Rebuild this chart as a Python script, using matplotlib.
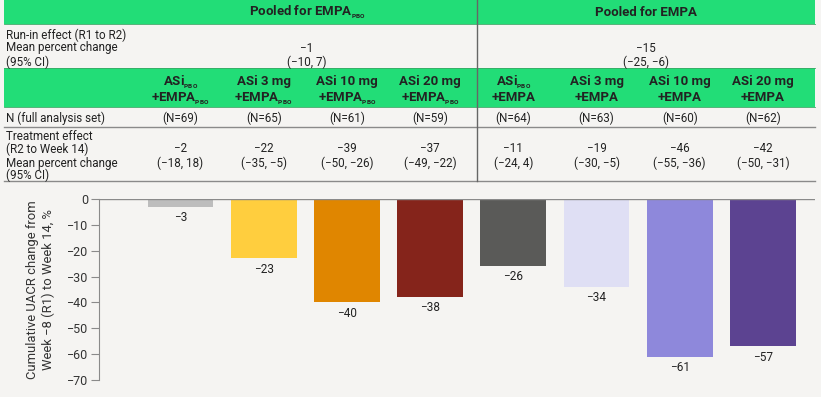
import matplotlib
matplotlib.use("Agg")
import matplotlib.pyplot as plt
from matplotlib.transforms import blended_transform_factory

plt.rcParams["font.family"] = ["Roboto", "DejaVu Sans"]

# --------------------------------------------------------------------------- #
# Data
# --------------------------------------------------------------------------- #
SUB = "$_{\\mathregular{_{PBO}}}$"
pool_titles = ["Pooled for EMPA" + SUB, "Pooled for EMPA"]
runin_mean = [-1, -15]
runin_ci = [(-10, 7), (-25, -6)]

col_top = ["ASi" + SUB, "ASi 3 mg", "ASi 10 mg", "ASi 20 mg",
           "ASi" + SUB, "ASi 3 mg", "ASi 10 mg", "ASi 20 mg"]
col_bot = ["+EMPA" + SUB] * 4 + ["+EMPA"] * 4
n_fas = [69, 65, 61, 59, 64, 63, 60, 62]
trt_mean = [-2, -22, -39, -37, -11, -19, -46, -42]
trt_ci = [(-18, 18), (-35, -5), (-50, -26), (-49, -22),
          (-24, 4), (-30, -5), (-55, -36), (-50, -31)]
cum_change = [-3, -23, -40, -38, -26, -34, -61, -57]
bar_colors = ["#BDBDBD", "#FFCE3E", "#E08600", "#85241B",
              "#5A5A58", "#DFDFF4", "#8E88DB", "#5C4391"]
yticks = [0, -10, -20, -30, -40, -50, -60, -70]

BG = "#F5F4F2"
GREEN = "#22DD77"
LINE = "#8A8A8A"
TXT = "#222222"
FS = 8.4      # body text
FSB = 9.5     # bold headers


def m(v):
    return str(v).replace("-", "\u2212")


def ci(t):
    return f"({m(t[0])}, {m(t[1])})"


W, H = 821, 397
fig = plt.figure(figsize=(W / 100, H / 100), dpi=100, facecolor=BG)

# overlay axes in pixel coords for the table
tab = fig.add_axes([0, 0, 1, 1], zorder=0)
tab.set_xlim(0, W)
tab.set_ylim(H, 0)
tab.axis("off")

# bar chart axes
L, R, T, B = 99, 815, 199, 380
ax = fig.add_axes([L / W, (H - B) / H, (R - L) / W, (B - T) / H], zorder=1)
ax.patch.set_alpha(0)
x = list(range(len(cum_change)))
pitch, c0 = 83.2, 180.5
ax.set_xlim((L - c0) / pitch, (R - c0) / pitch)
ax.set_ylim(-70, 0)

ax.bar(x, cum_change, width=0.79, color=bar_colors, zorder=2)
for xi, v in zip(x, cum_change):
    ax.annotate(m(v), (xi, v), xytext=(0, -3), textcoords="offset points",
                ha="center", va="top", fontsize=8.5, color=TXT)
ax.axhline(0, color=LINE, lw=1.0, zorder=3)
ax.set_yticks(yticks)
ax.set_yticklabels([m(t) for t in yticks], fontsize=9, color="#333333")
ax.set_xticks([])
for s in ("top", "right", "bottom"):
    ax.spines[s].set_visible(False)
ax.spines["left"].set_color(LINE)
ax.tick_params(axis="y", length=6, color=LINE, pad=2)
ax.set_ylabel("Cumulative UACR change from\nWeek \u22128 (R1) to Week 14, %",
              fontsize=9.4, color="#333333", labelpad=8, linespacing=1.25)

# --------------------------------------------------------------------------- #
# Table
# --------------------------------------------------------------------------- #
xl, xr, xdiv = 4, 815, 477
tab.fill_between([xl, xr], 0, 24, color=GREEN, lw=0)
tab.fill_between([xl, xr], 68, 107, color=GREEN, lw=0)
for yy in (24, 68, 107):
    tab.plot([xl, xr], [yy, yy], color="#3aa866", lw=0.6)
for yy in (127, 181):
    tab.plot([xl, xr], [yy, yy], color=LINE, lw=1.0)
tab.plot([xdiv, xdiv], [0, 181], color="#666666", lw=1.0)

bt = blended_transform_factory(ax.transData, tab.transData)

# pool headers
tab.text(307, 12, pool_titles[0], ha="center", va="center", fontsize=FSB,
         fontweight="bold", color=TXT)
tab.text(646, 12, pool_titles[1], ha="center", va="center", fontsize=FSB,
         fontweight="bold", color=TXT)

# run-in row
for yy, s in zip((35, 48, 62), ("Run-in effect (R1 to R2)",
                                "Mean percent change", "(95% CI)")):
    tab.text(6, yy, s, ha="left", va="center", fontsize=FS, color=TXT)
for cx, mv, cv in zip((307, 646), runin_mean, runin_ci):
    tab.text(cx, 48, m(mv), ha="center", va="center", fontsize=FS, color=TXT)
    tab.text(cx, 62, ci(cv), ha="center", va="center", fontsize=FS, color=TXT)

# column headers / N / treatment
tab.text(6, 118, "N (full analysis set)", ha="left", va="center",
         fontsize=FS, color=TXT)
for yy, s in zip((136, 149, 163, 175),
                 ("Treatment effect", "(R2 to Week 14)",
                  "Mean percent change", "(95% CI)")):
    tab.text(6, yy, s, ha="left", va="center", fontsize=FS, color=TXT)

for xi in x:
    tab.text(xi, 81, col_top[xi], transform=bt, ha="center", va="baseline",
             fontsize=FSB, fontweight="bold", color=TXT,
             position=(xi, 85))
    tab.text(xi, 101, col_bot[xi], transform=bt, ha="center", va="baseline",
             fontsize=FSB, fontweight="bold", color=TXT)
    tab.text(xi, 118, f"(N={n_fas[xi]})", transform=bt, ha="center",
             va="center", fontsize=FS, color=TXT)
    tab.text(xi, 149, m(trt_mean[xi]), transform=bt, ha="center",
             va="center", fontsize=FS, color=TXT)
    tab.text(xi, 163, ci(trt_ci[xi]), transform=bt, ha="center",
             va="center", fontsize=FS, color=TXT)

fig.savefig("out.png", dpi=100, facecolor=BG)
